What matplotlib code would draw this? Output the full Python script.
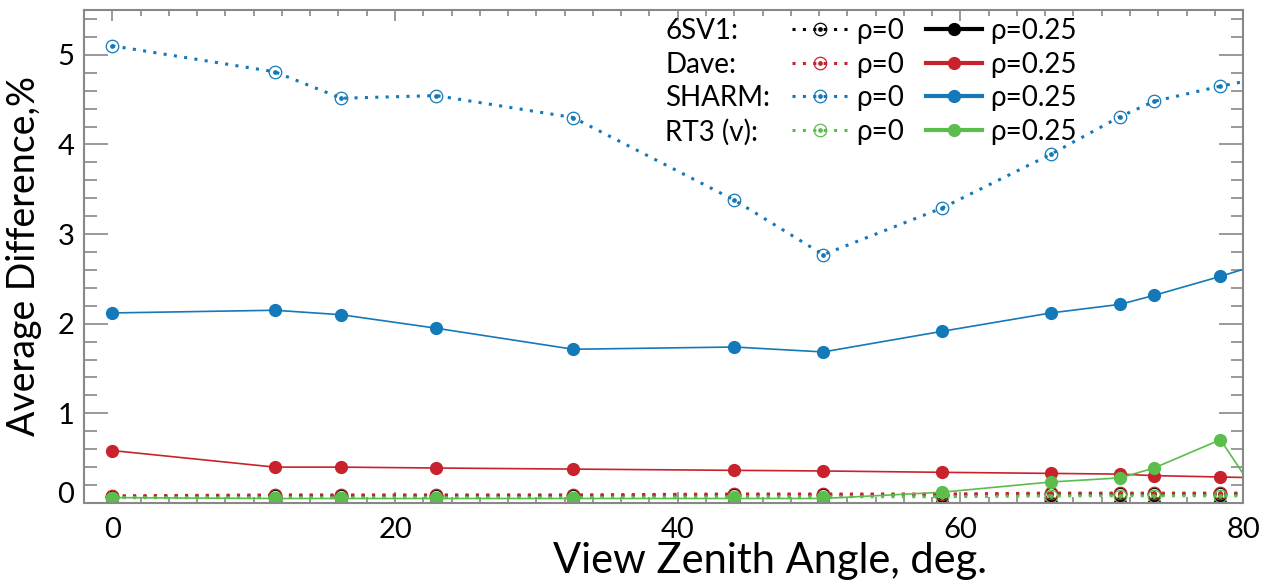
import numpy as np
import matplotlib.pyplot as plt
from matplotlib.lines import Line2D
from matplotlib.legend_handler import HandlerTuple
from matplotlib.ticker import MultipleLocator

plt.rcParams['font.family'] = ['Lato', 'DejaVu Sans']

# view zenith angles (deg), last one lies past the plotted range
vza = [0.0, 11.5, 16.2, 22.9, 32.6, 44.0, 50.3, 58.7, 66.4, 71.3, 73.7, 78.4, 81.3]

# average difference, %, surface albedo rho=0 and rho=0.25
sv_rho0 = [0.07, 0.08, 0.08, 0.08, 0.08, 0.09, 0.09, 0.09, 0.10, 0.10, 0.10, 0.10, 0.10]
sv_rho25 = [0.005, 0.005, 0.005, 0.005, 0.005, 0.005, 0.005, 0.005, 0.005, 0.005, 0.005, 0.005, 0.005]
dave_rho0 = [0.08, 0.09, 0.09, 0.09, 0.09, 0.10, 0.10, 0.10, 0.11, 0.11, 0.11, 0.11, 0.11]
dave_rho25 = [0.585, 0.40, 0.40, 0.39, 0.378, 0.364, 0.357, 0.342, 0.33, 0.322, 0.305, 0.29, 0.28]
sharm_rho0 = [5.10, 4.81, 4.515, 4.545, 4.30, 3.38, 2.77, 3.29, 3.89, 4.31, 4.48, 4.65, 4.74]
sharm_rho25 = [2.12, 2.15, 2.10, 1.95, 1.715, 1.74, 1.685, 1.915, 2.12, 2.216, 2.316, 2.528, 2.67]
rt3_rho0 = [0.06, 0.06, 0.06, 0.06, 0.06, 0.07, 0.07, 0.07, 0.08, 0.08, 0.08, 0.08, 0.08]
rt3_rho25 = [0.06, 0.05, 0.05, 0.05, 0.05, 0.05, 0.05, 0.12, 0.234, 0.28, 0.39, 0.706, 0.02]

models = ['6SV1:', 'Dave:', 'SHARM:', 'RT3 (v):']
colors = ['black', '#c8232c', '#1479b8', '#5bbd4c']
rho0_all = [sv_rho0, dave_rho0, sharm_rho0, rt3_rho0]
rho25_all = [sv_rho25, dave_rho25, sharm_rho25, rt3_rho25]

dots = (0, (1, 2.4))

fig = plt.figure(figsize=(12.62, 5.8), dpi=100)
ax = fig.add_axes([0.0666, 0.1328, 0.9184, 0.85])

h0, h25 = [], []
for r0, r25, c in zip(rho0_all, rho25_all, colors):
    ax.plot(vza, r0, color=c, ls=dots, lw=2.2, marker='o', ms=9, mfc='none', mec=c, mew=0.9)
    ax.plot(vza, r0, ls='none', marker='o', ms=2.4, color=c)
    ax.plot(vza, r25, color=c, lw=1.2, marker='o', ms=8.5)
    # legend samples
    h0.append((Line2D([], [], color=c, ls=dots, lw=2.2, marker='o', ms=9, mfc='none', mec=c, mew=0.9),
               Line2D([], [], ls='none', marker='o', ms=2.4, color=c)))
    h25.append(Line2D([], [], color=c, lw=3, marker='o', ms=8.5))

blank = [Line2D([], [], color='none') for _ in models]
handles = blank + h0 + h25
labels = models + ['ρ=0'] * 4 + ['ρ=0.25'] * 4
ax.legend(handles, labels, ncol=3, frameon=False, fontsize=20,
          handler_map={tuple: HandlerTuple(ndivide=1, pad=0)},
          handlelength=2.0, handletextpad=0.3, columnspacing=0.8, labelspacing=0.27,
          numpoints=1, loc='upper right', bbox_to_anchor=(0.866, 1.006), borderaxespad=0)

ax.set_xlim(-2, 80)
ax.set_ylim(0, 5.5)
ax.xaxis.set_major_locator(MultipleLocator(20))
ax.xaxis.set_minor_locator(MultipleLocator(2))
ax.yaxis.set_major_locator(MultipleLocator(1))
ax.yaxis.set_minor_locator(MultipleLocator(0.2))

gray = '#888888'
for s in ax.spines.values():
    s.set_color(gray)
    s.set_linewidth(1.5)
ax.tick_params(which='both', direction='in', top=True, right=True, color=gray, width=1.2, labelsize=21)
ax.tick_params(axis='y', which='major', length=17, pad=7)
ax.tick_params(axis='y', which='minor', length=9)
ax.tick_params(axis='x', which='major', length=8, pad=10)
ax.tick_params(axis='x', which='minor', length=4)

ax.set_xlabel('View Zenith Angle, deg.', fontsize=30)
ax.set_ylabel('Average Difference,%', fontsize=27)
ax.xaxis.set_label_coords(0.592, -0.08)
ax.yaxis.set_label_coords(-0.036, 0.5)

# lift the zero label off the bottom axis
fig.canvas.draw()
for t in ax.yaxis.get_major_ticks():
    if t.get_loc() == 0:
        t.label1.set_verticalalignment('baseline')

fig.savefig('out.png', dpi=100)
